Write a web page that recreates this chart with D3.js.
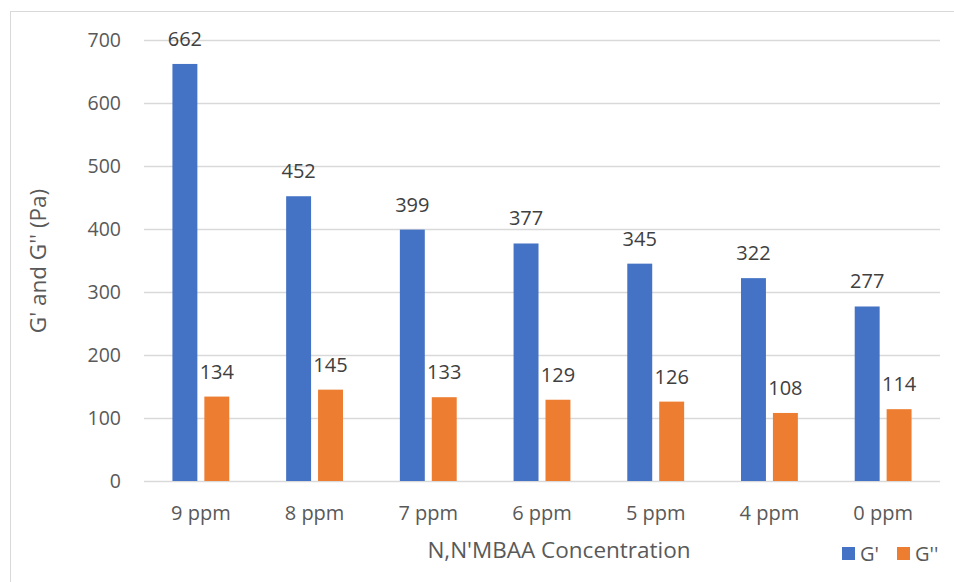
<!DOCTYPE html>
<html>
<head>
<meta charset="utf-8">
<script src="https://cdn.jsdelivr.net/npm/d3@7"></script>
<style>
body { margin: 0; background: #fff; }
text { font-family: "Open Sans", "Noto Sans", sans-serif; }
</style>
</head>
<body>
<div id="chart-area"></div>
<script>
var width = 954;
var height = 582;

var categories = ["9 ppm", "8 ppm", "7 ppm", "6 ppm", "5 ppm", "4 ppm", "0 ppm"];
var series = ["G'", "G''"];
var gPrime = [662, 452, 399, 377, 345, 322, 277];
var gDouble = [134, 145, 133, 129, 126, 108, 114];
var yTicks = [0, 100, 200, 300, 400, 500, 600, 700];
var colors = ["#4472C4", "#ED7D31"];

var plot = { left: 144, right: 940, top: 40, bottom: 481 };

var svg = d3.select("#chart-area").append("svg")
    .attr("width", width)
    .attr("height", height);

// outer chart border
svg.append("rect")
    .attr("x", 10.5)
    .attr("y", 11.5)
    .attr("width", 960)
    .attr("height", 600)
    .attr("fill", "none")
    .attr("stroke", "#D9D9D9")
    .attr("stroke-width", 1);

var x0 = d3.scaleBand()
    .domain(categories)
    .range([plot.left, plot.right])
    .padding(0);

var x1 = d3.scaleBand()
    .domain(series)
    .range([x0.bandwidth() * 0.25, x0.bandwidth() * 0.75])
    .paddingInner(0.219);

var y = d3.scaleLinear()
    .domain([0, 700])
    .range([plot.bottom, plot.top]);

// gridlines
svg.append("g").selectAll("line")
    .data(yTicks)
    .enter()
    .append("line")
    .attr("x1", plot.left)
    .attr("x2", plot.right)
    .attr("y1", function(d) { return Math.round(y(d)) + 0.5; })
    .attr("y2", function(d) { return Math.round(y(d)) + 0.5; })
    .attr("stroke", "#D9D9D9")
    .attr("stroke-width", 1.3);

// y tick labels
svg.append("g").selectAll("text")
    .data(yTicks)
    .enter()
    .append("text")
    .attr("x", 121)
    .attr("y", function(d) { return y(d); })
    .attr("dy", "0.36em")
    .attr("text-anchor", "end")
    .attr("fill", "#595959")
    .style("font-size", "19.5px")
    .text(function(d) { return d; });

// x category labels
svg.append("g").selectAll("text")
    .data(categories)
    .enter()
    .append("text")
    .attr("x", function(d) { return x0(d) + x0.bandwidth() / 2; })
    .attr("y", 520)
    .attr("text-anchor", "middle")
    .attr("fill", "#595959")
    .style("font-size", "20px")
    .text(function(d) { return d; });

var data = categories.map(function(c, i) {
    return { cat: c, values: [gPrime[i], gDouble[i]] };
});

var groups = svg.append("g").selectAll("g")
    .data(data)
    .enter()
    .append("g")
    .attr("transform", function(d) { return "translate(" + x0(d.cat) + ",0)"; });

groups.selectAll("rect")
    .data(function(d) {
        return d.values.map(function(v, i) { return { s: series[i], v: v, i: i }; });
    })
    .enter()
    .append("rect")
    .attr("x", function(d) { return x1(d.s); })
    .attr("y", function(d) { return y(d.v); })
    .attr("width", x1.bandwidth())
    .attr("height", function(d) { return y(0) - y(d.v); })
    .attr("fill", function(d) { return colors[d.i]; });

groups.selectAll("text")
    .data(function(d) {
        return d.values.map(function(v, i) { return { s: series[i], v: v }; });
    })
    .enter()
    .append("text")
    .attr("x", function(d) { return x1(d.s) + x1.bandwidth() / 2; })
    .attr("y", function(d) { return y(d.v) - 18; })
    .attr("text-anchor", "middle")
    .attr("fill", "#404040")
    .style("font-size", "20px")
    .text(function(d) { return d.v; });

// axis titles
svg.append("text")
    .attr("x", 559)
    .attr("y", 558)
    .attr("text-anchor", "middle")
    .attr("fill", "#595959")
    .style("font-size", "22.5px")
    .text("N,N'MBAA Concentration");

svg.append("text")
    .attr("transform", "translate(46,261) rotate(-90)")
    .attr("text-anchor", "middle")
    .attr("fill", "#595959")
    .style("font-size", "22.5px")
    .text("G' and G'' (Pa)");

// legend
var legendX = [842, 897];
var legend = svg.append("g").selectAll("g")
    .data(series)
    .enter()
    .append("g")
    .attr("transform", function(d, i) { return "translate(" + legendX[i] + ",547)"; });

legend.append("rect")
    .attr("width", 13)
    .attr("height", 13)
    .attr("fill", function(d, i) { return colors[i]; });

legend.append("text")
    .attr("x", 18)
    .attr("y", 13.5)
    .attr("fill", "#595959")
    .style("font-size", "20px")
    .text(function(d) { return d; });
</script>
</body>
</html>
